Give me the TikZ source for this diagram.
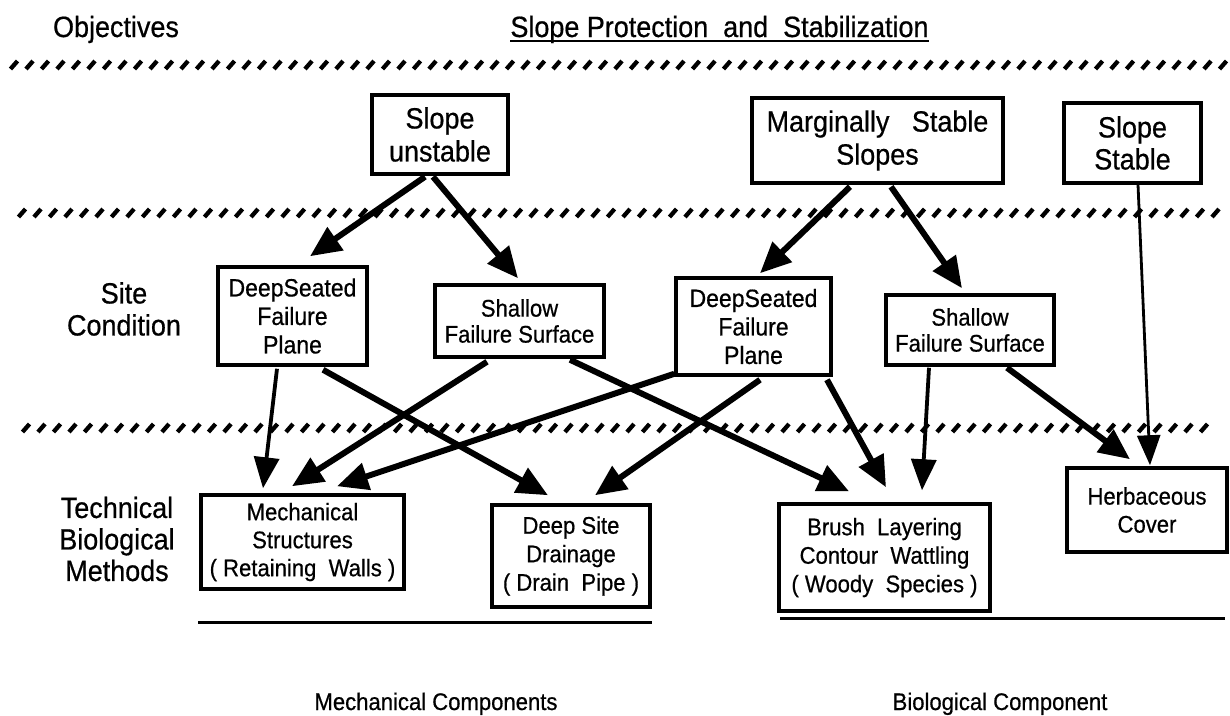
\documentclass[tikz,border=0pt]{standalone}
\usepackage{fontspec}
\setmainfont{Liberation Sans}[FakeStretch=0.92,FakeBold=0.6]
\usetikzlibrary{arrows.meta,calc}
\begin{document}
\begin{tikzpicture}[x=1pt,y=-1pt,
  box/.style={draw,line width=3.5pt,inner sep=0pt,align=center},
  fbig/.style={font=\fontsize{29.3}{33}\selectfont},
  fmid/.style={font=\fontsize{25}{28.5}\selectfont},
  fsmall/.style={font=\fontsize{24}{28}\selectfont},
  lbl/.style={align=center,inner sep=0pt},
  arr/.style={line width=6pt,-{Triangle[length=31pt,width=27pt]}},
  thinarr/.style={line width=3.8pt,-{Triangle[length=31pt,width=25pt]}},
  hairarr/.style={line width=2.8pt,-{Triangle[length=30pt,width=23pt]}},
  hatchmark/.style={line width=4.3pt},
  rule/.style={line width=3pt}
]
\useasboundingbox (0,0) rectangle (1230,715);
\fill[white] (0,0) rectangle (1230,715);

% headings
\node[lbl,fbig,anchor=base] (obj) at (116,37) {Objectives};
\node[lbl,fbig,anchor=base] (title) at (719.5,37) {Slope Protection\ \ and\ \ Stabilization};
\draw[line width=2pt] ($(title.base west)+(0,4)$) -- ($(title.base east)+(0,4)$);

% hatched separators
\foreach \x in {14,29.5,...,1226} \draw[hatchmark] (\x-3.5,69) -- (\x+3.5,61);
\foreach \x in {22,37.5,...,1226} \draw[hatchmark] (\x-3.5,217) -- (\x+3.5,209);
\foreach \x in {26,41.5,...,1206} \draw[hatchmark] (\x-3.5,432) -- (\x+3.5,424);

% left labels
\node[lbl,font=\fontsize{29.3}{32}\selectfont] (site) at (124,309) {Site\\Condition};
\node[lbl,font=\fontsize{29.3}{31.5}\selectfont] (tech) at (117,539) {Technical\\Biological\\Methods};

% objective boxes
\node[box,fbig,minimum width=136pt,minimum height=79pt] (su) at (440,134.5) {Slope\\unstable};
\node[box,fbig,minimum width=251pt,minimum height=85pt] (ms) at (877.5,140.5) {Marginally\ \ \ Stable\\Slopes};
\node[box,font=\fontsize{29.3}{32}\selectfont,minimum width=137pt,minimum height=80pt] (ss) at (1132.5,143) {Slope\\Stable};

% site condition boxes
\node[box,fmid,minimum width=149pt,minimum height=98pt] (dsa) at (292.5,316) {DeepSeated\\Failure\\Plane};
\node[box,font=\fontsize{24}{26}\selectfont,minimum width=169pt,minimum height=72pt] (sha) at (519.5,321) {Shallow\\Failure Surface};
\node[box,fmid,minimum width=155pt,minimum height=97pt] (dsb) at (753.5,326.5) {DeepSeated\\Failure\\Plane};
\node[box,font=\fontsize{24}{26}\selectfont,minimum width=168pt,minimum height=70pt] (shb) at (970,330) {Shallow\\Failure Surface};

% method boxes
\node[box,fsmall,minimum width=203pt,minimum height=94pt] (mech) at (302.5,542) {Mechanical\\Structures\\( Retaining\ \ Walls )};
\node[box,font=\fontsize{24}{28.5}\selectfont,minimum width=158pt,minimum height=102pt] (dsd) at (571,556) {Deep Site\\Drainage\\( Drain\ \ Pipe )};
\node[box,font=\fontsize{24}{28.5}\selectfont,minimum width=211pt,minimum height=107pt] (brush) at (884.5,557.5) {Brush\ \ Layering\\Contour\ \ Wattling\\( Woody\ \ Species )};
\node[box,fsmall,minimum width=160pt,minimum height=84pt] (herb) at (1147,510) {Herbaceous\\Cover};

% bottom rules and captions
\coordinate (rl1) at (198,622);
\coordinate (rl2) at (652,622);
\coordinate (rr1) at (780,618);
\coordinate (rr2) at (1225,618);
\draw[rule] (rl1) -- (rl2);
\draw[rule] (rr1) -- (rr2);
\node[lbl,fsmall,anchor=base] (mc) at (436,710) {Mechanical Components};
\node[lbl,fsmall,anchor=base] (bc) at (1000,710) {Biological Component};

% connectors
\draw[arr] ($(su.south)+(-15,1)$) -- ($(dsa.north)+(17.5,-9)$);
\draw[arr] ($(su.south)+(-7,1)$) -- ($(sha.north)+(-1.5,-5)$);
\draw[arr] ($(ms.south)+(-27.5,2)$) -- ($(dsb.north)+(6.5,-3)$);
\draw[arr] ($(ms.south)+(13.5,2)$) -- ($(shb.north)+(-8,-5)$);
\draw[hairarr] ($(ss.south)+(5.5,0)$) -- ($(herb.north)+(3,-1)$);

\draw[thinarr] ($(dsa.south)+(-15.5,2)$) -- ($(mech.north)+(-39.5,-5)$);
\draw[arr] ($(dsa.south)+(30.5,3)$) -- ($(dsd.north)+(-23,-8)$);
\draw[arr] ($(sha.south)+(-32.5,3)$) -- ($(mech.north)+(-10.5,-7)$);
\draw[arr] ($(dsb.south west)+(0,-3)$) -- ($(mech.north)+(34.5,-7)$);
\draw[arr] ($(dsb.south)+(6.5,3)$) -- ($(dsd.north)+(24,-8)$);
\draw[arr] ($(sha.south)+(50.5,1)$) -- ($(brush.north)+(-35.5,-11)$);
\draw[arr] ($(dsb.south)+(73.5,3)$) -- ($(brush.north)+(1.5,-15)$);
\draw[thinarr] ($(shb.south)+(-41,1)$) -- ($(brush.north)+(37.5,-12)$);
\draw[arr] ($(shb.south)+(37,1)$) -- ($(herb.north)+(-17,-7)$);
\end{tikzpicture}
\end{document}
